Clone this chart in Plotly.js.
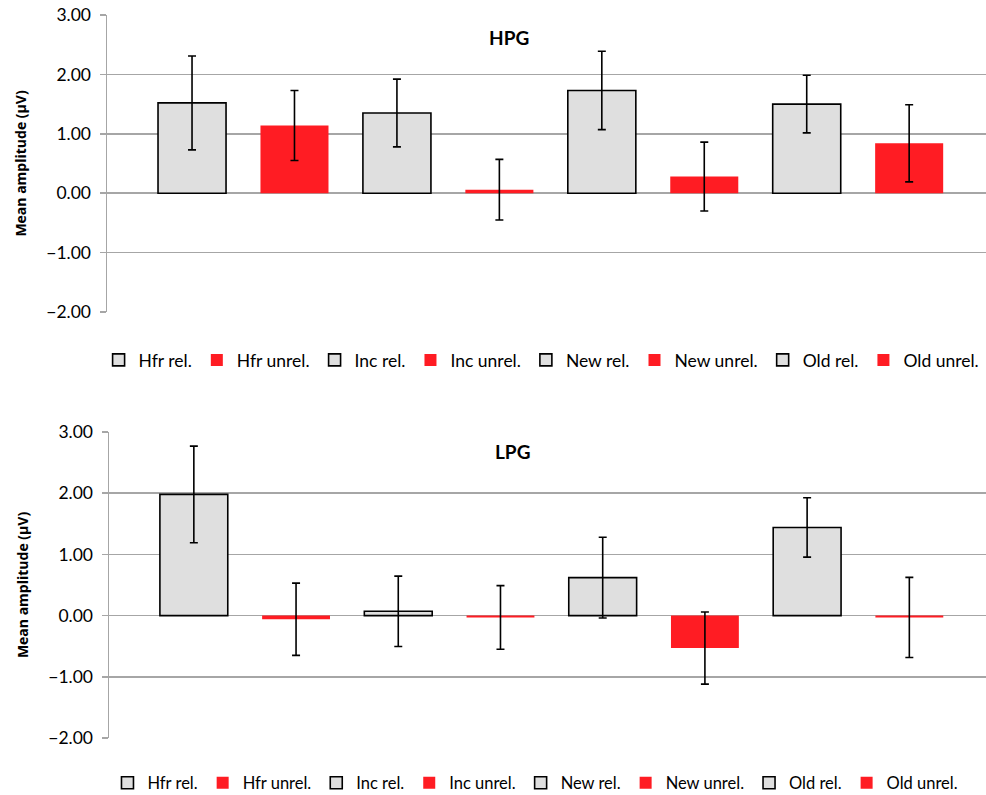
<!DOCTYPE html>
<html>
<head>
<meta charset="utf-8">
<script src="https://cdn.plot.ly/plotly-3.0.1.min.js"></script>
<style>html,body{margin:0;padding:0;background:#fff;}#chart{width:986px;height:795px;}</style>
</head>
<body>
<div id="chart"></div>
<script>
var categories = ["Hfr rel.", "Hfr unrel.", "Inc rel.", "Inc unrel.", "New rel.", "New unrel.", "Old rel.", "Old unrel."];
var hpgValues = [1.52, 1.14, 1.35, 0.06, 1.73, 0.28, 1.50, 0.84];
var hpgErrors = [0.79, 0.59, 0.57, 0.51, 0.66, 0.58, 0.485, 0.65];
var lpgValues = [1.98, -0.06, 0.07, -0.03, 0.62, -0.53, 1.44, -0.03];
var lpgErrors = [0.79, 0.59, 0.575, 0.52, 0.66, 0.59, 0.485, 0.655];
var panelTitles = ["HPG", "LPG"];
var yTicks = [3, 2, 1, 0, -1, -2];

var GRAY = "#dfdfdf", RED = "#ff1c23";
var FONT = "Lato, 'Open Sans', sans-serif";

var traces = [];
function addPanel(values, errors, xa, ya, legend) {
  for (var i = 0; i < categories.length; i++) {
    var rel = (i % 2 === 0);
    traces.push({
      type: "bar",
      x: [i],
      y: [values[i]],
      name: categories[i],
      xaxis: xa, yaxis: ya,
      legend: legend,
      width: 0.664,
      marker: {color: rel ? GRAY : RED, line: {color: "#000", width: rel ? 1.6 : 0}},
      error_y: {type: "data", array: [errors[i]], visible: true, color: "#000", thickness: 1.6, width: 4},
      hoverinfo: "skip"
    });
  }
}
addPanel(hpgValues, hpgErrors, "x", "y", "legend");
addPanel(lpgValues, lpgErrors, "x2", "y2", "legend2");

function yaxis(domain, anchor) {
  return {
    domain: domain, anchor: anchor,
    range: [-2, 3], tickvals: yTicks, tickformat: ".2f",
    showgrid: true, gridcolor: "#a6a6a6", gridwidth: 1.5,
    zeroline: false,
    showline: true, linecolor: "#a6a6a6", linewidth: 1.5,
    ticks: "outside", ticklen: 6, tickcolor: "#a6a6a6", tickwidth: 1.5,
    ticklabelstandoff: 5,
    tickfont: {family: FONT, size: 17.5, color: "#000"},
    title: {text: "<b>Mean amplitude (μV)</b>", font: {family: "'Open Sans', sans-serif", size: 14, color: "#000"}, standoff: 16},
    fixedrange: true
  };
}
function xaxis(domain, anchor) {
  return {
    domain: domain, anchor: anchor,
    range: [-0.83, 7.75],
    showgrid: false, zeroline: false, showline: false, showticklabels: false, ticks: "",
    fixedrange: true
  };
}

var layout = {
  width: 986, height: 795,
  margin: {l: 0, r: 0, t: 0, b: 0, autoexpand: false},
  paper_bgcolor: "#fff", plot_bgcolor: "rgba(0,0,0,0)",
  barmode: "overlay",
  showlegend: true,
  font: {family: FONT, color: "#000"},
  xaxis: xaxis([107/986, 1], "y"),
  yaxis: yaxis([1 - 312/795, 1 - 15/795], "x"),
  xaxis2: xaxis([109/986, 1], "y2"),
  yaxis2: yaxis([1 - 738/795, 1 - 432/795], "x2"),
  legend: {orientation: "h", x: 0.1, xanchor: "left", y: 1 - 360/795, yanchor: "middle",
           font: {family: FONT, size: 17.5, color: "#000"}, itemwidth: 30, bgcolor: "rgba(0,0,0,0)", traceorder: "normal"},
  legend2: {orientation: "h", x: 0.109, xanchor: "left", y: 1 - 783/795, yanchor: "middle",
           font: {family: FONT, size: 16.5, color: "#000"}, itemwidth: 30, bgcolor: "rgba(0,0,0,0)", traceorder: "normal"},
  annotations: [
    {text: "<b>" + panelTitles[0] + "</b>", xref: "paper", yref: "paper", x: 508.5/986, y: 1 - 38/795,
     xanchor: "center", yanchor: "middle", showarrow: false, font: {family: FONT, size: 19, color: "#000"}},
    {text: "<b>" + panelTitles[1] + "</b>", xref: "paper", yref: "paper", x: 512/986, y: 1 - 451/795,
     xanchor: "center", yanchor: "middle", showarrow: false, font: {family: FONT, size: 19, color: "#000"}}
  ]
};

Plotly.newPlot("chart", traces, layout, {displayModeBar: false, staticPlot: true});
</script>
</body>
</html>
